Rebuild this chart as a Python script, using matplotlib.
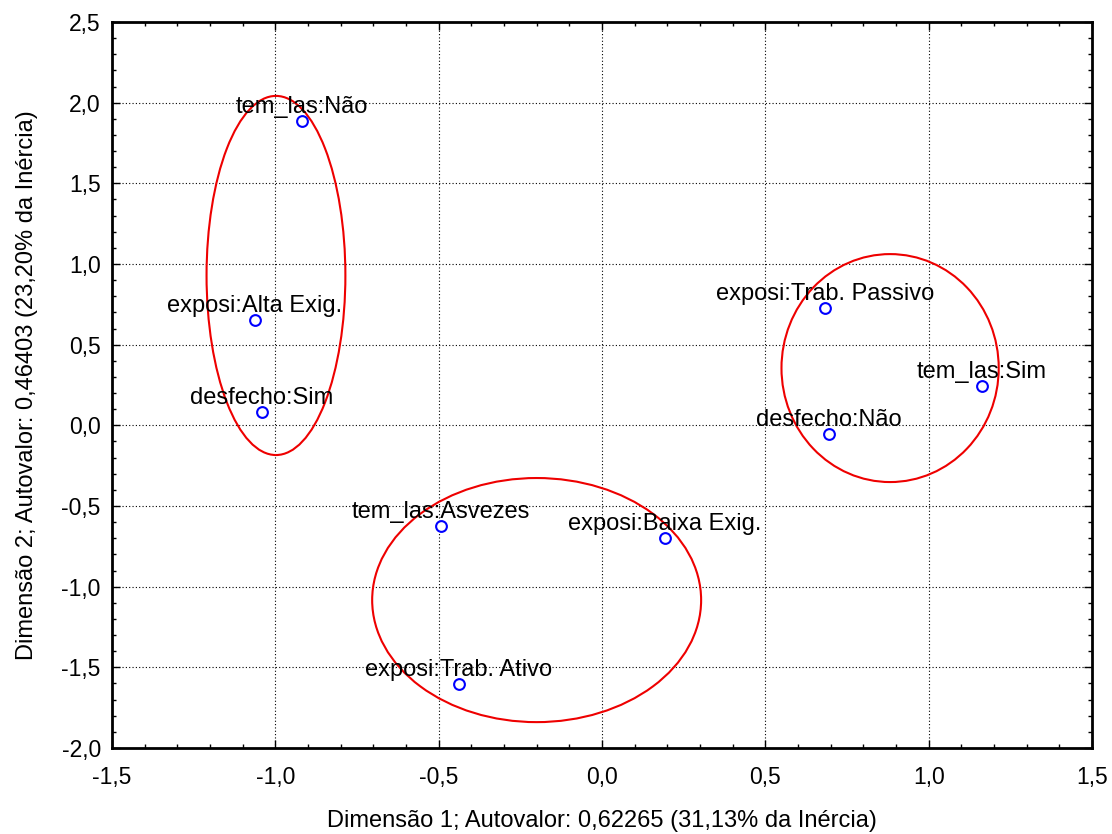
import numpy as np
import matplotlib
matplotlib.use("Agg")
from matplotlib import pyplot as plt
from matplotlib.patches import Ellipse
from matplotlib.ticker import MultipleLocator, FuncFormatter

plt.rcParams['font.family'] = ['Liberation Sans', 'DejaVu Sans']

# Category coordinates (dimension 1, dimension 2)
labels = ['tem_las:Não', 'exposi:Alta Exig.', 'desfecho:Sim', 'exposi:Trab. Passivo',
          'tem_las:Sim', 'desfecho:Não', 'tem_las:Asvezes', 'exposi:Baixa Exig.',
          'exposi:Trab. Ativo']
dim1 = [-0.918, -1.062, -1.041, 0.683, 1.163, 0.695, -0.493, 0.193, -0.438]
dim2 = [1.886, 0.653, 0.083, 0.727, 0.244, -0.054, -0.624, -0.698, -1.604]

# Group ellipses: centre x, centre y, width, height
ell_cx = [-0.998, 0.882, -0.200]
ell_cy = [0.929, 0.355, -1.083]
ell_w = [0.425, 0.665, 1.007]
ell_h = [2.226, 1.413, 1.513]

fig = plt.figure(figsize=(11.12, 8.34), dpi=100)
ax = fig.add_axes([0.1007, 0.1031, 0.8813, 0.8705])

ax.set_xlim(-1.5, 1.5)
ax.set_ylim(-2.0, 2.5)

ax.grid(True, which='major', color='black', linestyle=(0, (1, 2)), linewidth=0.8)

# ellipses
for cx, cy, w, h in zip(ell_cx, ell_cy, ell_w, ell_h):
    ax.add_patch(Ellipse((cx, cy), w, h, fill=False, edgecolor='#ee0000', linewidth=1.5, zorder=3))

ax.scatter(dim1, dim2, s=60, facecolors='white', edgecolors='#0000ff', linewidths=1.5, zorder=4)

for x, y, t in zip(dim1, dim2, labels):
    ax.annotate(t, (x, y), xytext=(0, 6), textcoords='offset points',
                ha='center', va='baseline', fontsize=17, zorder=5)

comma = FuncFormatter(lambda v, p: ('%.1f' % v).replace('.', ','))
ax.xaxis.set_major_locator(MultipleLocator(0.5))
ax.yaxis.set_major_locator(MultipleLocator(0.5))
ax.xaxis.set_minor_locator(MultipleLocator(0.1))
ax.yaxis.set_minor_locator(MultipleLocator(0.1))
ax.xaxis.set_major_formatter(comma)
ax.yaxis.set_major_formatter(comma)

ax.tick_params(which='both', direction='in', top=True, right=True, labelsize=16.5, width=1)
ax.tick_params(which='major', length=6)
ax.tick_params(which='minor', length=3)
ax.tick_params(axis='x', which='major', pad=13)
ax.tick_params(axis='y', which='major', pad=8)
for s in ax.spines.values():
    s.set_linewidth(2)

ax.set_xlabel('Dimensão 1; Autovalor: 0,62265 (31,13% da Inércia)', fontsize=17, labelpad=15)
ax.set_ylabel('Dimensão 2; Autovalor: 0,46403 (23,20% da Inércia)', fontsize=17, labelpad=17)

fig.savefig('out.png', dpi=100)
